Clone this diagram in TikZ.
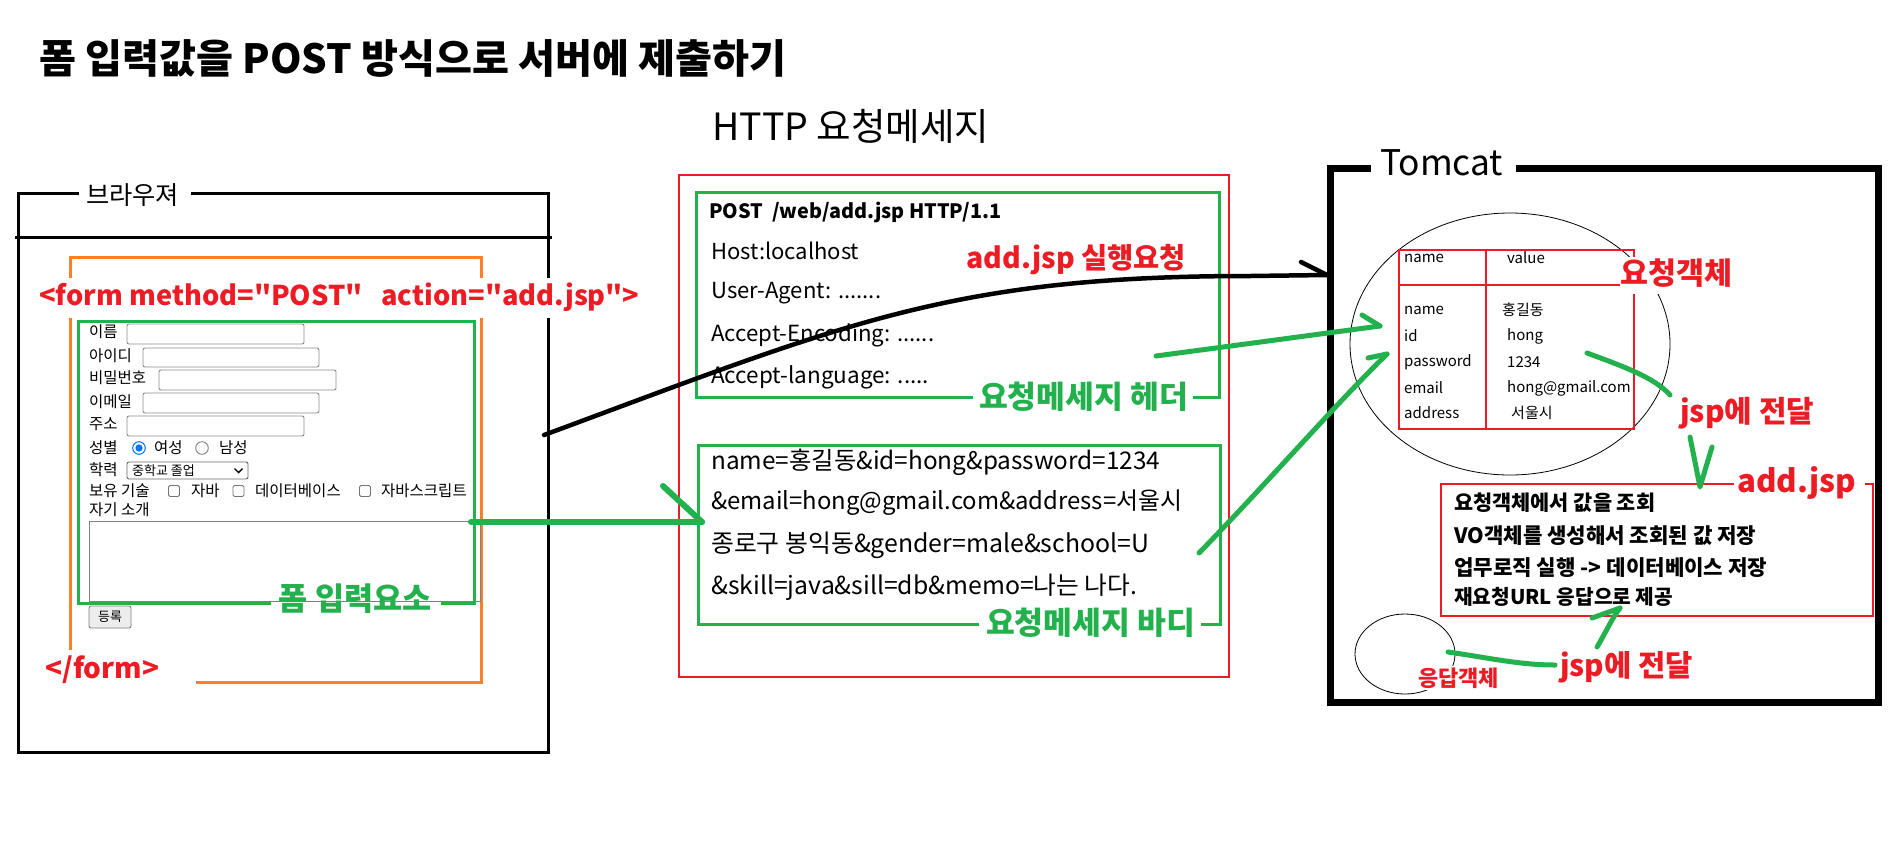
\documentclass[tikz,border=0pt]{standalone}
\usepackage{fontspec}
\usepackage{graphicx}
\setmainfont{Noto Sans CJK KR}[Ligatures=TeXOff]
\definecolor{pred}{RGB}{237,28,36}
\definecolor{pgreen}{RGB}{34,177,76}
\definecolor{porange}{RGB}{255,127,39}
\definecolor{radioblue}{RGB}{0,117,255}
\newcommand\fw[2]{\resizebox{#1pt}{!}{#2}}
\newcommand\fs[1]{\fontsize{#1}{#1}\selectfont}
\tikzset{
  txt/.style={inner sep=0pt, anchor=west},
  gstroke/.style={pgreen, line width=5pt, line cap=round, line join=round},
  inbox/.style={draw=black!45, rounded corners=2pt, line width=0.9pt},
  chk/.style={draw=black!55, rounded corners=1.5pt, line width=0.9pt},
  frm/.style={txt, font=\fs{15.5}},
  tbl/.style={txt, font=\fs{15}},
}
\begin{document}
\begin{tikzpicture}[x=1pt,y=-1pt]
\fill[white] (0,0) rectangle (1894,860);
\useasboundingbox (0,0) rectangle (1894,860);

% ---------- titles
\node[txt] (title) at (39,58) {\fw{747}{\bfseries 폼 입력값을 POST 방식으로 서버에 제출하기}};
\node[txt] (httptitle) at (712,126) {\fw{277}{HTTP 요청메세지}};

% ---------- browser
\draw[line width=3pt] (79,193) -- (18,193) -- (18,752) -- (548,752) -- (548,193) -- (191,193);
\node[txt] (browser) at (86,195) {\fw{93}{브라우져}};
\draw[line width=3pt] (15,237) -- (552,237);
\draw[porange, line width=3pt] (70,650) -- (70,257) -- (481,257) -- (481,682) -- (196,682);
\fill[white] (34,278) rectangle (645,318);
\node[txt, text=pred] (formtag) at (39,297) {\fw{600}{\bfseries <form method="POST"\ \ \ action="add.jsp">}};

% form elements
\node[frm] (l1) at (89,332) {이름};
\node[frm] (l2) at (89,356) {아이디};
\node[frm] (l3) at (89,378) {비밀번호};
\node[frm] (l4) at (89,402) {이메일};
\node[frm] (l5) at (89,424) {주소};
\node[frm] (l6) at (89,448) {성별};
\node[frm] (l7) at (89,470) {학력};
\node[frm] (l8) at (89,491) {보유 기술};
\node[frm] (l9) at (89,510) {자기 소개};
\draw[inbox] (127,324) rectangle (304,344);
\draw[inbox] (143,348) rectangle (319,367);
\draw[inbox] (159,370) rectangle (336,390);
\draw[inbox] (143,393) rectangle (319,413);
\draw[inbox] (127,416) rectangle (304,436);
\draw[radioblue, fill=white, line width=1pt] (139,448) circle (6.3);
\fill[radioblue] (139,448) circle (3.6);
\node[frm] (f1) at (154,448) {여성};
\draw[black!50, line width=0.9pt] (202,448) circle (6.3);
\node[frm] (f2) at (219,448) {남성};
\draw[inbox, draw=black!60] (127,462) rectangle (248,479);
\node[txt, font=\fs{13}] (sel) at (132,470.5) {중학교 졸업};
\draw[line width=1.4pt] (234.5,468.5) -- (238.5,472.5) -- (242.5,468.5);
\draw[chk] (168.5,485.5) rectangle +(11,11);
\node[frm] (s1) at (191,491) {자바};
\draw[chk] (233,485.5) rectangle +(11,11);
\node[frm] (s2) at (255,491) {데이터베이스};
\draw[chk] (359.5,485.5) rectangle +(11,11);
\node[frm] (s3) at (381,491) {자바스크립트};
\draw[black!50, line width=0.9pt] (89,521) rectangle (480,601);
\draw[draw=black!50, fill=black!7, rounded corners=2pt, line width=0.9pt] (89,606) rectangle (131,628);
\node[font=\fs{13}, inner sep=0pt] (btn) at (110,617) {등록};

\draw[pgreen, line width=3pt] (271,603) -- (78,603) -- (78,321) -- (474,321) -- (474,603) -- (441,603);
\node[inner sep=0pt, text=pgreen] (formlbl) at (355.5,599) {\fw{153}{\bfseries 폼 입력요소}};
\node[txt, text=pred] (formend) at (45,670) {\fw{114}{\bfseries </form>}};

% ---------- HTTP message
\draw[pred, line width=2.5pt] (679,175) rectangle (1229,677);
\draw[pgreen, line width=3pt] (973,397) -- (696,397) -- (696,192) -- (1219,192) -- (1219,397) -- (1193,397);
\node[inner sep=0pt, text=pgreen] (hdrlbl) at (1083.5,397) {\fw{209}{\bfseries 요청메세지 헤더}};
\draw[pgreen, line width=3pt] (979,624) -- (698,624) -- (698,445) -- (1220,445) -- (1220,624) -- (1201,624);
\node[inner sep=0pt, text=pgreen] (bodylbl) at (1090.5,623) {\fw{209}{\bfseries 요청메세지 바디}};

\node[txt] (h0) at (709,212) {\fw{292}{\bfseries POST\ \ /web/add.jsp HTTP/1.1}};
\node[txt] (h1) at (711,251) {\fw{148}{Host:localhost}};
\node[txt] (h2) at (711,293) {\fw{170}{User-Agent: .......}};
\node[txt] (h3) at (711,335) {\fw{223}{Accept-Encoding: ......}};
\node[txt] (h4) at (711,377) {\fw{218}{Accept-language: .....}};
\node[txt, text=pred] (exec) at (966,260) {\fw{220}{\bfseries add.jsp 실행요청}};

\node[txt] (b1) at (711,462) {\fw{449}{name=홍길동\&id=hong\&password=1234}};
\node[txt] (b2) at (711,503) {\fw{471}{\&email=hong@gmail.com\&address=서울시}};
\node[txt] (b3) at (711,545) {\fw{438}{종로구 봉익동\&gender=male\&school=U}};
\node[txt] (b4) at (711,587) {\fw{426}{\&skill=java\&sill=db\&memo=나는 나다.}};

% ---------- Tomcat
\draw[line width=7pt] (1371,168) -- (1330,168) -- (1330,702) -- (1878,702) -- (1878,168) -- (1516,168);
\node[txt] (tomcat) at (1380,163) {\fw{123}{Tomcat}};
\draw[line width=0.8pt] (1510,344) ellipse (160 and 131);
\draw[pred, line width=1.5pt] (1399,250) rectangle (1634,429);
\draw[pred, line width=1.5pt] (1399,285) -- (1634,285);
\draw[pred, line width=1.5pt] (1486,250) -- (1486,429);
\fill[white] (1620,257) rectangle (1736,294);
\node[txt, text=pred] (reqobj) at (1620,273) {\fw{112}{\bfseries 요청객체}};
\node[tbl] (t0a) at (1404,258) {name};
\node[tbl] (t0b) at (1507,258) {value};
\node[tbl] (t1a) at (1404,310) {name};
\node[tbl] (t1b) at (1502,310) {홍길동};
\node[tbl] (t2a) at (1404,336) {id};
\node[tbl] (t2b) at (1507,336) {hong};
\node[tbl] (t3a) at (1404,362) {password};
\node[tbl] (t3b) at (1507,362) {1234};
\node[tbl] (t4a) at (1404,388) {email};
\node[tbl] (t4b) at (1507,388) {hong@gmail.com};
\node[tbl] (t5a) at (1404,413) {address};
\node[tbl] (t5b) at (1511,413) {서울시};

\node[txt, text=pred] (jsp1) at (1680,413) {\fw{134}{\bfseries jsp에 전달}};

\draw[pred, line width=2.5pt] (1734,484) -- (1441,484) -- (1441,616) -- (1873,616) -- (1873,484) -- (1865,484);
\node[txt, text=pred] (addjsp) at (1737,483) {\fw{119}{\bfseries add.jsp}};
\node[txt] (a1) at (1454,503) {\fw{201}{\bfseries 요청객체에서 값을 조회}};
\node[txt] (a2) at (1454,536) {\fw{302}{\bfseries VO객체를 생성해서 조회된 값 저장}};
\node[txt] (a3) at (1454,568) {\fw{313}{\bfseries 업무로직 실행 -> 데이터베이스 저장}};
\node[txt] (a4) at (1454,597) {\fw{219}{\bfseries 재요청URL 응답으로 제공}};

\draw[line width=0.8pt] (1405,654) ellipse (50 and 40);
\node[txt, text=pred, fill=white, inner ysep=2pt] (respobj) at (1418,678) {\fw{81}{\bfseries 응답객체}};
\node[txt, text=pred] (jsp2) at (1560,667) {\fw{133}{\bfseries jsp에 전달}};

% ---------- connectors
\coordinate (bstart) at (544,435);
\coordinate (bbend) at (1250,276);
\coordinate (bend) at (1327,275);
\coordinate (bhead) at (1301,262);
\draw[line width=4.5pt, line cap=round, line join=round] (bstart) .. controls (844,324) and (950,276) .. (bbend) -- (bend);
\draw[line width=4.5pt, line cap=round] (bhead) -- (bend);

\coordinate (ga0) at (471,522);
\coordinate (ga1) at (702,522);
\coordinate (ga2) at (663,486);
\draw[gstroke, line width=6pt] (ga0) -- (ga1);
\draw[gstroke, line width=6pt] (ga2) -- (ga1);

\coordinate (gh0) at (1156,356);
\coordinate (gh1) at (1380,326);
\coordinate (gh2) at (1362,315);
\draw[gstroke] (gh0) -- (gh1);
\draw[gstroke] (gh2) -- (gh1);

\coordinate (gb0) at (1199,553);
\coordinate (gb1) at (1387,354);
\coordinate (gb2) at (1368,358);
\draw[gstroke] (gb0) .. controls (1270,480) and (1330,410) .. (gb1);
\draw[gstroke] (gb2) -- (gb1);

\coordinate (gc0) at (1587,353);
\coordinate (gc1) at (1670,395);
\draw[gstroke] (gc0) .. controls (1625,367) and (1655,378) .. (gc1);

\coordinate (gv0) at (1690,437);
\coordinate (gv1) at (1700,487);
\coordinate (gv2) at (1712,447);
\draw[gstroke] (gv0) -- (gv1) -- (gv2);

\coordinate (gr0) at (1448,652);
\coordinate (gr1) at (1555,665);
\draw[gstroke] (gr0) .. controls (1490,658) and (1520,665) .. (gr1);

\coordinate (gk0) at (1597,647);
\coordinate (gk1) at (1620,608);
\coordinate (gk2) at (1592,618);
\draw[gstroke] (gk0) .. controls (1606,632) and (1612,618) .. (gk1);
\draw[gstroke] (gk2) -- (gk1);
\end{tikzpicture}
\end{document}
